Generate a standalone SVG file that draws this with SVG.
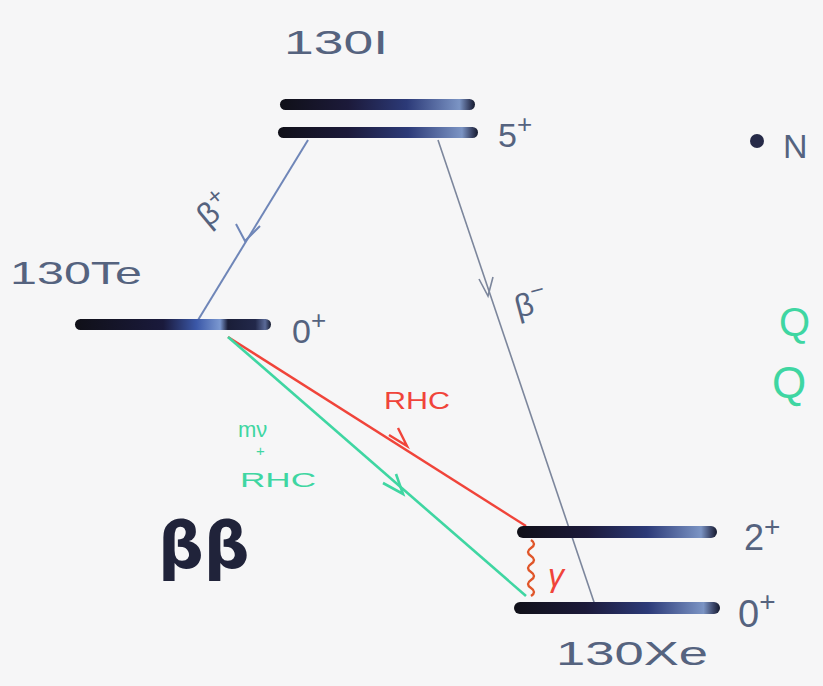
<svg xmlns="http://www.w3.org/2000/svg" width="823" height="686" viewBox="0 0 823 686">
<style>
.lbl{font-family:"Liberation Sans",Arial,sans-serif;fill:#55637f}
.red{font-family:"Liberation Sans",Arial,sans-serif;fill:#f0443a}
.grn{font-family:"Liberation Sans",Arial,sans-serif;fill:#3fd6a2}
.bar{fill:url(#g)}
.blue{stroke:#6f86b8;stroke-width:2;fill:none}
.gray{stroke:#7c869c;stroke-width:1.6;fill:none}
</style>
<defs>
<linearGradient id="g" x1="0" y1="0" x2="1" y2="0">
<stop offset="0" stop-color="#101018"/>
<stop offset="0.35" stop-color="#1c1a3a"/>
<stop offset="0.65" stop-color="#2c3a78"/>
<stop offset="0.92" stop-color="#7b94c4"/>
<stop offset="0.97" stop-color="#3a4466"/>
<stop offset="1" stop-color="#151a2e"/>
</linearGradient>
<linearGradient id="gt" x1="0" y1="0" x2="1" y2="0">
<stop offset="0" stop-color="#101018"/>
<stop offset="0.45" stop-color="#1a1a3c"/>
<stop offset="0.62" stop-color="#3b58a8"/>
<stop offset="0.74" stop-color="#7b98d0"/>
<stop offset="0.78" stop-color="#1a1e38"/>
<stop offset="0.92" stop-color="#22284a"/>
<stop offset="0.97" stop-color="#5a6a98"/>
<stop offset="1" stop-color="#151a2e"/>
</linearGradient>
</defs>
<rect width="823" height="686" fill="#f6f6f7"/>

<g id="connectors">
<path class="blue" d="M308,140 L195,325"/>
<path class="blue" d="M236,224 L245,241 L260,226"/>
<path class="gray" d="M438,140 L596,608"/>
<path class="gray" d="M479,279 L488,296 L493,277"/>
<path d="M228,337 L526,526" stroke="#f0443a" stroke-width="2.4" fill="none"/>
<path d="M389,435 L407,446 L398,428" stroke="#f0443a" stroke-width="2.4" fill="none"/>
<path d="M228,337 L526,596" stroke="#3fd6a2" stroke-width="2.6" fill="none"/>
<path d="M383,483 L403,494 L396,474" stroke="#3fd6a2" stroke-width="2.6" fill="none"/>
<path d="M531,540 q6,4 0,8 q-6,4 0,8 q6,4 0,8 q-6,4 0,8 q6,4 0,8 q-6,4 0,8 q6,4 0,8" stroke="#e0562a" stroke-width="2.4" fill="none"/>
</g>

<g id="I130">
<text class="lbl" x="284" y="54" font-size="34" textLength="104" lengthAdjust="spacingAndGlyphs">130I</text>
<rect class="bar" x="280" y="99" width="195" height="11" rx="5.5"/>
<rect class="bar" x="278" y="127" width="200" height="11" rx="5.5"/>
<text class="lbl" x="498" y="147" font-size="34">5<tspan dy="-14" font-size="26">+</tspan></text>
</g>

<g id="Te130">
<text class="lbl" x="10" y="284" font-size="32" textLength="132" lengthAdjust="spacingAndGlyphs">130Te</text>
<rect x="75" y="319" width="196" height="11" rx="5.5" fill="url(#gt)"/>
<text class="lbl" x="292" y="343" font-size="34">0<tspan dy="-14" font-size="26">+</tspan></text>
</g>

<g id="Xe130">
<rect class="bar" x="517" y="526" width="200" height="12" rx="6"/>
<rect class="bar" x="514" y="602" width="206" height="12" rx="6"/>
<text class="lbl" x="744" y="550" font-size="36">2<tspan dy="-14" font-size="28">+</tspan></text>
<text class="lbl" x="738" y="627" font-size="38">0<tspan dy="-16" font-size="28">+</tspan></text>
<text class="lbl" x="556" y="665" font-size="34" textLength="152" lengthAdjust="spacingAndGlyphs">130Xe</text>
</g>

<g id="labels">
<text class="lbl" x="0" y="0" font-size="32" transform="translate(208,228) rotate(-40)">β<tspan dy="-12" font-size="24">+</tspan></text>
<text class="lbl" x="0" y="0" font-size="32" transform="translate(518,318) rotate(-15)">β<tspan dy="-14" font-size="24">−</tspan></text>
<text class="red" x="384" y="409" font-size="24" textLength="66" lengthAdjust="spacingAndGlyphs">RHC</text>
<text class="grn" x="238" y="437" font-size="22">mν</text>
<text class="grn" x="256" y="456" font-size="15">+</text>
<text class="grn" x="240" y="487" font-size="20" textLength="76" lengthAdjust="spacingAndGlyphs">RHC</text>
<text class="red" x="548" y="586" font-size="32" font-style="italic">γ</text>
<text x="158" y="568" font-family="DejaVu Sans,sans-serif" font-weight="bold" font-size="64" fill="#20233a">ββ</text>
</g>

<g id="side">
<circle cx="757" cy="141" r="7" fill="#262a48"/>
<text class="lbl" x="783" y="158" font-size="34">N</text>
<text class="grn" x="779" y="336" font-size="40">Q</text>
<text class="grn" x="772" y="398" font-size="44">Q</text>
</g>
</svg>
